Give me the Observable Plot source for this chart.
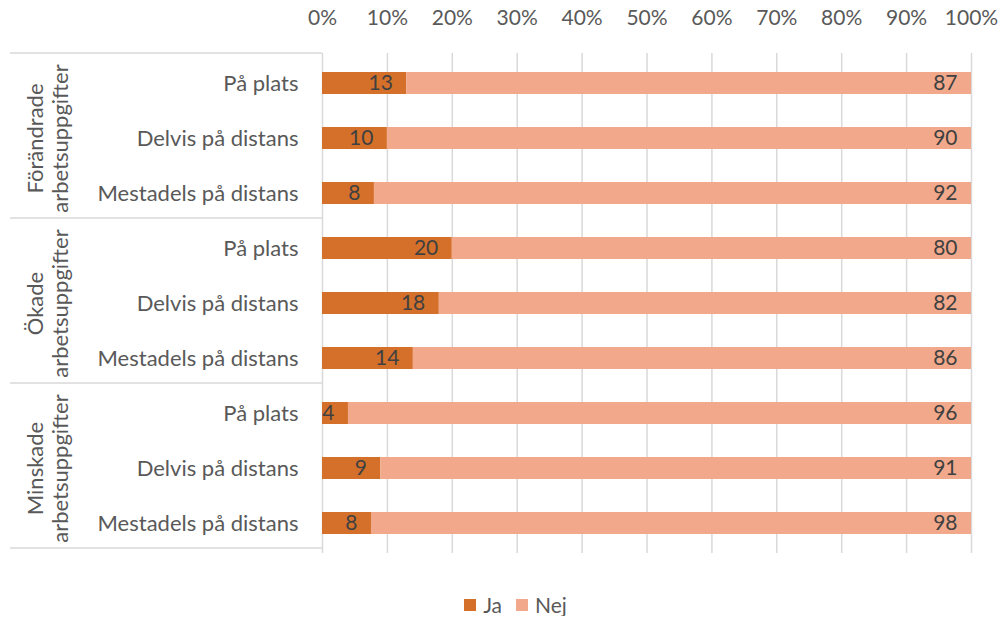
<!DOCTYPE html>
<html><head><meta charset="utf-8">
<script src="https://cdn.jsdelivr.net/npm/d3@7"></script>
<script src="https://cdn.jsdelivr.net/npm/@observablehq/plot@0.6"></script>
<style>
body{margin:0;background:#fff;font-family:Lato,sans-serif;}
#legend{display:flex;justify-content:center;gap:14px;font-size:21px;color:#595959;line-height:22px;padding-top:19px;padding-left:30px}
.item{display:flex;align-items:center}
.sw{display:inline-block;width:12px;height:12px;margin-right:7px}
</style></head><body><div id="chart"></div><div id="legend"></div>
<script>
const groups = ["Förändrade\narbetsuppgifter", "Ökade\narbetsuppgifter", "Minskade\narbetsuppgifter"];
const subcats = ["På plats", "Delvis på distans", "Mestadels på distans"];
const answers = ["Ja", "Nej"];
const jaValues = [13, 10, 8, 20, 18, 14, 4, 9, 8];
const nejValues = [87, 90, 92, 80, 82, 86, 96, 91, 98];
const xTicks = [0, 0.1, 0.2, 0.3, 0.4, 0.5, 0.6, 0.7, 0.8, 0.9, 1];
const colors = ["#D5702B", "#F2A98B"];

const rowKeys = [];
groups.forEach((g, gi) => subcats.forEach(s => rowKeys.push(gi + "|" + s)));
const data = [];
rowKeys.forEach((k, i) => {
  data.push({key: k, answer: "Ja", value: jaValues[i]});
  data.push({key: k, answer: "Nej", value: nejValues[i]});
});
const groupRows = groups.map((g, gi) => ({label: g, key: rowKeys[gi * 3 + 1]}));

const separators = (index, scales, values, dims) => {
  const y = scales.y;
  const step = y(rowKeys[1]) - y(rowKeys[0]);
  const g = d3.create("svg:g").attr("stroke", "#d9d9d9").attr("stroke-width", 1.5);
  for (let k = 0; k <= groups.length; k++) {
    const yy = dims.marginTop + k * subcats.length * step;
    g.append("line").attr("x1", 10).attr("x2", dims.marginLeft).attr("y1", yy).attr("y2", yy);
  }
  return g.node();
};

const chart = Plot.plot({
  width: 1001,
  height: 575,
  marginTop: 53,
  marginBottom: 22,
  marginLeft: 322,
  marginRight: 30,
  style: {fontFamily: "Lato, sans-serif", fontSize: "21px", color: "#595959", background: "#fff"},
  x: {domain: [0, 1]},
  y: {domain: rowKeys, paddingInner: 0.6, paddingOuter: 0.3},
  color: {domain: answers, range: colors},
  marks: [
    Plot.gridX({ticks: xTicks, stroke: "#d9d9d9", strokeOpacity: 1, strokeWidth: 1.5}),
    Plot.axisX({anchor: "top", ticks: xTicks, tickFormat: d3.format(".0%"), tickSize: 0, tickPadding: 29, label: null, fontSize: 21}),
    Plot.axisY({tickSize: 0, tickPadding: 24, tickFormat: k => k.split("|")[1], label: null, fontSize: 22}),
    separators,
    Plot.text(groupRows, {y: "key", text: "label", frameAnchor: "left", textAnchor: "middle", lineAnchor: "middle", dx: -275, rotate: -90, lineHeight: 1.15, fill: "#595959", fontSize: 22}),
    Plot.barX(data, Plot.stackX({x: "value", y: "key", fill: "answer", z: "answer", offset: "normalize"})),
    Plot.text(data, Plot.stackX2({x: "value", y: "key", z: "answer", offset: "normalize", text: d => String(d.value), textAnchor: "end", dx: -14, fill: "#404040", fontSize: 21}))
  ]
});
document.getElementById("chart").appendChild(chart);

const legend = document.getElementById("legend");
answers.forEach((a, i) => {
  const it = document.createElement("div");
  it.className = "item";
  it.innerHTML = `<span class="sw" style="background:${colors[i]}"></span><span>${a}</span>`;
  legend.appendChild(it);
});
</script></body></html>
